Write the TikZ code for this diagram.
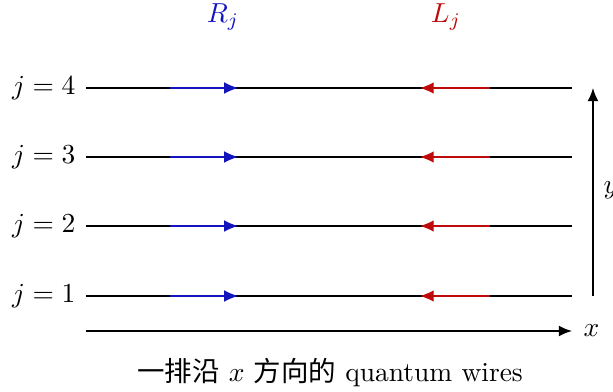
\documentclass[tikz,border=0pt]{standalone}
\usepackage{fontspec}
\newfontfamily\cjk{Noto Sans CJK SC}
\usetikzlibrary{arrows.meta}
\definecolor{rblue}{RGB}{20,20,190}
\definecolor{lred}{RGB}{190,10,10}
\tikzset{
  wire/.style={black, line width=0.75pt},
  rmover/.style={rblue, line width=0.45pt, -{Latex[length=5pt,width=4.2pt]}},
  lmover/.style={lred, line width=0.45pt, -{Latex[length=5pt,width=4.2pt]}},
  axis/.style={black, line width=0.6pt, -{Latex[length=4.8pt,width=4pt]}},
  lbl/.style={inner sep=0pt}
}
\begin{document}
\begin{tikzpicture}[x=0.3636pt, y=-0.3636pt]
\useasboundingbox (0,0) rectangle (613,392);
\foreach \j/\yy in {1/296, 2/226, 3/157, 4/88}{
  \coordinate (wl\j) at (86,\yy);
  \coordinate (wr\j) at (572,\yy);
  \coordinate (rs\j) at (170,\yy);
  \coordinate (re\j) at (238,\yy);
  \coordinate (ls\j) at (490,\yy);
  \coordinate (le\j) at (420,\yy);
  \node[lbl, anchor=east] (jl\j) at (76,\yy) {$j=\j$};
  \draw[wire] (wl\j) -- (wr\j);
  \draw[rmover] (rs\j) -- (re\j);
  \draw[lmover] (ls\j) -- (le\j);
}
\node[lbl, text=rblue] (R) at (223,17) {$R_j$};
\node[lbl, text=lred] (L) at (446,17) {$L_j$};
\coordinate (xs) at (86,331);
\coordinate (xe) at (572,331);
\draw[axis] (xs) -- (xe);
\node[lbl, anchor=west] (xl) at (583,331) {$x$};
\coordinate (ys) at (593,296);
\coordinate (ye) at (593,88);
\draw[axis] (ys) -- (ye);
\node[lbl, anchor=west] (yl) at (603,190) {$y$};
\node[lbl] (cap) at (330,373) {{\cjk 一排沿} $x$ {\cjk 方向的} quantum wires};
\end{tikzpicture}
\end{document}
